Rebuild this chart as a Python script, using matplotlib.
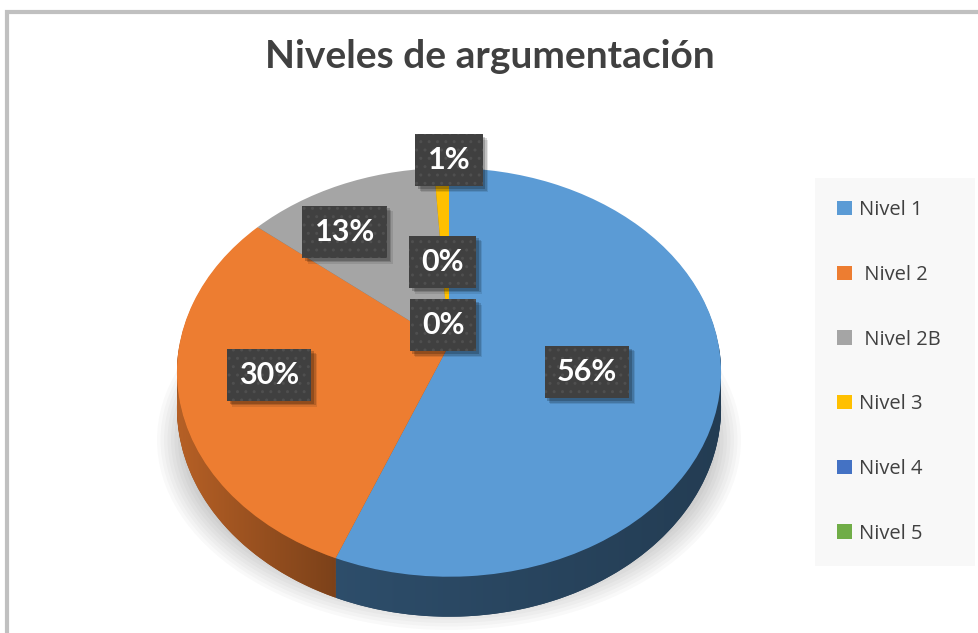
import numpy as np
import matplotlib
matplotlib.use("Agg")
import matplotlib.pyplot as plt
import matplotlib.transforms as mtransforms
import matplotlib.patheffects as pe
from matplotlib.patches import Ellipse, Rectangle, Polygon
from matplotlib.colors import to_rgb

# ---------------- data ----------------
categories = ["Nivel 1", " Nivel 2", " Nivel 2B", "Nivel 3", "Nivel 4", "Nivel 5"]
values = [56, 30, 13, 1, 0, 0]
pct_labels = ["56%", "30%", "13%", "1%", "0%", "0%"]
title = "Niveles de argumentación"

# ---------------- style ----------------
top_colors = ["#5b9bd5", "#ed7d31", "#a5a5a5", "#ffc000", "#4472c4", "#70ad47"]
side_colors = ["#243e58", "#9a5220", "#6b6b6b", "#a67d00", "#2c4a80", "#49712e"]
side_shade = [(0.50, 0.39), (0.77, 0.52), (0.6, 0.5), (0.6, 0.5), (0.6, 0.5), (0.6, 0.5)]
label_radius = [0.52, 0.67, 0.74, 1.05, 0.44, 0.1025]
label_angle_offset = [-4.0, -1.8, 7.4, -1.8, 3.1, 12.7]

W, H = 979, 633
CX, CY = 449.0, 345.0      # pie centre (pixels)
SX, SY = 269.6, 200.7      # pie radii (pixels)
PERSP = 0.134              # perspective strength
DEPTH = 34.6               # thickness (pixels)


class Persp(mtransforms.Transform):
    """Maps unit-disk pie coordinates to a tilted, perspective view (pixels)."""
    input_dims = 2
    output_dims = 2

    def __init__(self, z=0.0):
        super().__init__()
        self.z = z

    def transform_non_affine(self, values):
        values = np.asarray(values, dtype=float)
        u, v = values[:, 0], values[:, 1]
        w = 1.0 + PERSP * v
        X = CX + u * SX / w
        Y = CY - (v * SY - self.z) / w
        return np.column_stack([X, Y])


fig = plt.figure(figsize=(W / 100, H / 100), dpi=100)
fig.patch.set_facecolor("white")

# outer frame (top and left edges visible)
fig.add_artist(Rectangle((7 / W, -0.2), 1.5, (H - 12) / H + 0.2,
                         transform=fig.transFigure, fill=False,
                         edgecolor="#c0c0c0", linewidth=3))

ax = fig.add_axes([0, 0, 1, 1])
ax.axis("off")

# soft shadow under the pie
n_sh = 12
for k in range(n_sh):
    ax.add_patch(Ellipse((CX, 440), 2 * (292 - 3.5 * k), 2 * (190 - 3.5 * k),
                         facecolor="black", edgecolor="none", alpha=0.022, zorder=0))

# side wall: stacked pies
for z in np.linspace(DEPTH, 0, 30, endpoint=False):
    ws, _ = ax.pie(values, colors=side_colors, startangle=90, counterclock=False,
                   radius=1, wedgeprops=dict(linewidth=0.6, edgecolor="none"))
    for wdg in ws:
        wdg.set_transform(Persp(z) + ax.transData)
        wdg.set_zorder(1)

# top face
wedges, _ = ax.pie(values, colors=top_colors, startangle=90, counterclock=False,
                   radius=1, wedgeprops=dict(linewidth=0))
for wdg in wedges:
    wdg.set_transform(Persp(0) + ax.transData)
    wdg.set_zorder(2)

# shaded (gradient) front side of the wedges
p_top, p_bot = Persp(0), Persp(DEPTH)
for wdg, (fl, fr), col in zip(wedges, side_shade, top_colors):
    a, b = max(wdg.theta1, -180.0), min(wdg.theta2, 0.0)
    if b - a <= 0.5:
        continue
    th = np.radians(np.linspace(a, b, 120))
    ring = np.column_stack([np.cos(th), np.sin(th)])
    top_pts = p_top.transform_non_affine(ring)
    bot_pts = p_bot.transform_non_affine(ring)
    poly_pts = np.vstack([top_pts, bot_pts[::-1]])
    poly = Polygon(poly_pts, closed=True, facecolor="none", edgecolor="none",
                   transform=ax.transData)
    ax.add_patch(poly)
    x0, x1 = poly_pts[:, 0].min(), poly_pts[:, 0].max()
    y0, y1 = poly_pts[:, 1].min(), poly_pts[:, 1].max()
    ramp = np.linspace(fl, fr, 256)[None, :, None] * np.array(to_rgb(col))[None, None, :]
    im = ax.imshow(ramp, extent=(x0 - 1, x1 + 1, y1 + 1, y0 - 1), aspect="auto",
                   interpolation="bilinear", zorder=1.5)
    im.set_clip_path(poly)

ax.set_xlim(0, W)
ax.set_ylim(H, 0)
ax.set_aspect("auto")

# data labels
total = float(sum(values))
cum = np.concatenate([[0], np.cumsum(values)])
box_effects = [pe.SimplePatchShadow(offset=(4, -4), shadow_rgbFace="black", alpha=0.10, hatch=None),
               pe.SimplePatchShadow(offset=(3, -3), shadow_rgbFace="black", alpha=0.15, hatch=None),
               pe.SimplePatchShadow(offset=(2, -2), shadow_rgbFace="black", alpha=0.20, hatch=None),
               pe.Normal()]
for i, (lab, r, off) in enumerate(zip(pct_labels, label_radius, label_angle_offset)):
    mid = np.radians(90 - 360 * (cum[i] + values[i] / 2) / total + off)
    px, py = p_top.transform_non_affine(np.array([[r * np.cos(mid), r * np.sin(mid)]]))[0]
    t = ax.text(px, py, lab, ha="center", va="center", fontsize=22, fontweight="bold",
                family="Lato", color="white", zorder=4,
                bbox=dict(boxstyle="square,pad=0.4", facecolor="#404040",
                          edgecolor="#4f4f4f", hatch="..", linewidth=0))
    t.get_bbox_patch().set_path_effects(box_effects)

# title
fig.text(490 / W, 1 - 57 / H, title, ha="center", va="center", fontsize=28,
         fontweight="bold", family="Lato", color="#404040")

# legend
leg = fig.legend(wedges, categories, loc="upper left",
                 bbox_to_anchor=(815 / W, 1 - 178 / H - 0.01, 160 / W, 0.01), mode="expand",
                 frameon=True, fancybox=False, facecolor="#f8f8f8", edgecolor="none",
                 framealpha=1, borderaxespad=0, borderpad=1.1,
                 handlelength=0.72, handleheight=0.72, handletextpad=0.35,
                 labelspacing=2.22, prop=dict(family="Open Sans", size=14.5),
                 labelcolor="#404040")

fig.savefig("out.png", dpi=100, facecolor="white")
